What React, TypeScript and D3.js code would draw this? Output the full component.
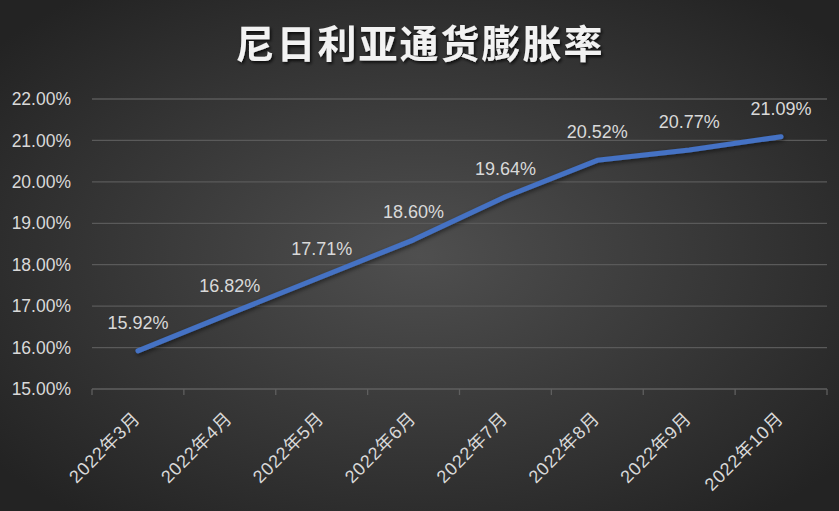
import { useEffect, useRef } from 'react'
import * as d3 from 'd3'

const months = ['2022年3月', '2022年4月', '2022年5月', '2022年6月', '2022年7月', '2022年8月', '2022年9月', '2022年10月']
const inflation = [15.92, 16.82, 17.71, 18.6, 19.64, 20.52, 20.77, 21.09]
const yTicks = [15, 16, 17, 18, 19, 20, 21, 22]
const title = '尼日利亚通货膨胀率'

const W = 839
const H = 511
const margin = { top: 99, right: 12, bottom: 122, left: 92 }
const FONT = '"Liberation Sans", "Noto Sans CJK SC", sans-serif'

export default function App() {
  const svgRef = useRef<SVGSVGElement>(null)

  useEffect(() => {
    document.body.style.margin = '0'
    if (!svgRef.current) return
    const svg = d3.select(svgRef.current)
    svg.selectAll('*').remove()

    const defs = svg.append('defs')
    const bg = defs
      .append('radialGradient')
      .attr('id', 'bg')
      .attr('cx', '50%')
      .attr('cy', '50%')
      .attr('r', '65%')
    bg.append('stop').attr('offset', '0%').attr('stop-color', '#4f4f4f')
    bg.append('stop').attr('offset', '100%').attr('stop-color', '#232323')

    const shadow = defs.append('filter').attr('id', 'shadow').attr('x', '-10%').attr('y', '-20%').attr('width', '130%').attr('height', '150%')
    shadow
      .append('feDropShadow')
      .attr('dx', 1.5)
      .attr('dy', 2)
      .attr('stdDeviation', 1.5)
      .attr('flood-color', '#000')
      .attr('flood-opacity', 0.75)

    const lineShadow = defs.append('filter').attr('id', 'lshadow').attr('x', '-10%').attr('y', '-10%').attr('width', '130%').attr('height', '130%')
    lineShadow
      .append('feDropShadow')
      .attr('dx', 1)
      .attr('dy', 2)
      .attr('stdDeviation', 2)
      .attr('flood-color', '#000')
      .attr('flood-opacity', 0.5)

    svg.append('rect').attr('width', W).attr('height', H).attr('fill', 'url(#bg)')

    const x = d3
      .scaleBand<string>()
      .domain(months)
      .range([margin.left, W - margin.right])
    const y = d3
      .scaleLinear()
      .domain([15, 22])
      .range([H - margin.bottom, margin.top])

    // gridlines
    svg
      .append('g')
      .selectAll('line')
      .data(yTicks.filter((t) => t !== 15))
      .join('line')
      .attr('x1', margin.left)
      .attr('x2', W - margin.right)
      .attr('y1', (d) => y(d))
      .attr('y2', (d) => y(d))
      .attr('stroke', '#5a5a5a')
      .attr('stroke-width', 1.3)

    // y labels
    svg
      .append('g')
      .selectAll('text')
      .data(yTicks)
      .join('text')
      .attr('x', 71)
      .attr('y', (d) => y(d))
      .attr('dy', '0.35em')
      .attr('text-anchor', 'end')
      .attr('fill', '#d9d9d9')
      .attr('font-family', FONT)
      .attr('font-size', 17.5)
      .text((d) => d.toFixed(2) + '%')

    // x axis
    const xAxis = svg.append('g').attr('transform', `translate(0,${y(15)})`)
    xAxis
      .append('line')
      .attr('x1', margin.left)
      .attr('x2', W - margin.right)
      .attr('stroke', '#5f5f5f')
      .attr('stroke-width', 1.3)
    const tickXs = months.map((m) => x(m)!).concat([W - margin.right])
    xAxis
      .selectAll('line.tick')
      .data(tickXs)
      .join('line')
      .attr('class', 'tick')
      .attr('x1', (d) => d)
      .attr('x2', (d) => d)
      .attr('y1', 0)
      .attr('y2', 6)
      .attr('stroke', '#5f5f5f')
      .attr('stroke-width', 1.3)

    xAxis
      .selectAll('text')
      .data(months)
      .join('text')
      .attr('transform', (d) => `translate(${x(d)! + x.bandwidth() / 2 - 1},${26}) rotate(-45)`)
      .attr('text-anchor', 'end')
      .attr('dy', '0.35em')
      .attr('fill', '#d9d9d9')
      .attr('font-family', FONT)
      .attr('font-size', 18)
      .attr('letter-spacing', 0.8)
      .text((d) => d)

    // line
    const cx = (i: number) => x(months[i])! + x.bandwidth() / 2
    const line = d3
      .line<number>()
      .x((_, i) => cx(i))
      .y((d) => y(d))
    svg
      .append('path')
      .datum(inflation)
      .attr('d', line)
      .attr('fill', 'none')
      .attr('stroke', '#4472c4')
      .attr('stroke-width', 5)
      .attr('stroke-linecap', 'round')
      .attr('stroke-linejoin', 'round')
      .attr('filter', 'url(#lshadow)')

    // data labels
    svg
      .append('g')
      .selectAll('text')
      .data(inflation)
      .join('text')
      .attr('x', (_, i) => cx(i))
      .attr('y', (d) => y(d) - 22)
      .attr('text-anchor', 'middle')
      .attr('fill', '#d9d9d9')
      .attr('font-family', FONT)
      .attr('font-size', 18)
      .text((d) => d.toFixed(2) + '%')

    // title
    svg
      .append('text')
      .attr('x', 420)
      .attr('y', 58)
      .attr('text-anchor', 'middle')
      .attr('fill', '#f2f2f2')
      .attr('font-family', '"Noto Sans CJK SC", sans-serif')
      .attr('font-weight', 'bold')
      .attr('font-size', 39)
      .attr('letter-spacing', 2)
      .attr('filter', 'url(#shadow)')
      .text(title)
  }, [])

  return <svg ref={svgRef} width={W} height={H} style={{ display: 'block' }} />
}
